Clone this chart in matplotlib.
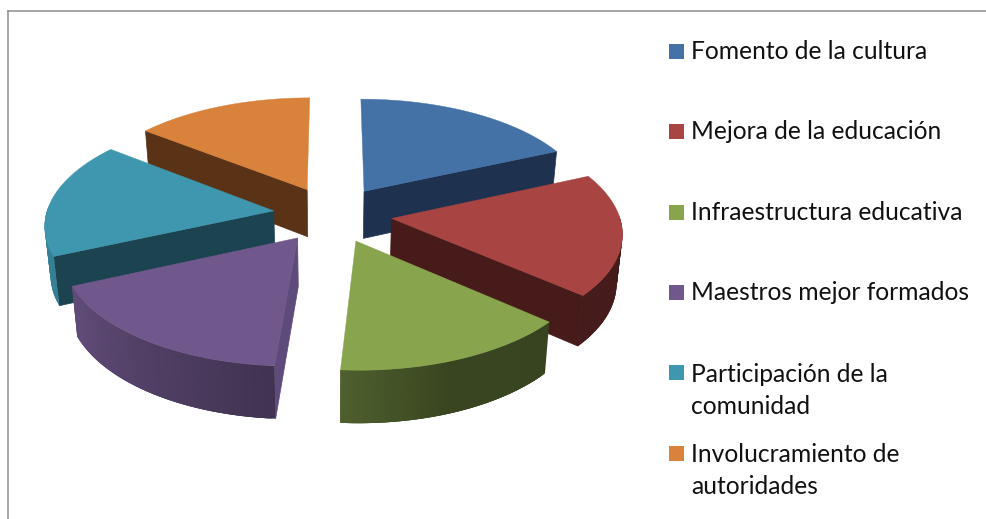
import numpy as np
import matplotlib
matplotlib.use("Agg")
import matplotlib.pyplot as plt
from matplotlib.collections import PolyCollection
from matplotlib.lines import Line2D
from matplotlib.patches import Rectangle

categories = ["Fomento de la cultura", "Mejora de la educación", "Infraestructura educativa",
              "Maestros mejor formados", "Participación de la\ncomunidad", "Involucramiento de\nautoridades"]
values = [66, 65, 53, 62, 62, 52]
top_colors = ["#4472A7", "#A84442", "#88A54E", "#70588C", "#3F96AF", "#D9823C"]
side_colors = ["#1E324F", "#461B19", "#3A451F", "#5F4A7C", "#1C4350", "#5A3316"]

CX, CY = 332.5, 214.3
FX, G, K = 227.5, 107.7, 0.115
EXPLODE = 0.261
START = 90.0


def project(x, y):
    d = 1 + K * y
    return np.column_stack([CX + FX * x / d, CY - G * y / d])


def lower(p):
    p = np.asarray(p, float)
    return np.column_stack([CX + (p[:, 0] - CX) * 0.98, p[:, 1] + 50 + 0.033 * (p[:, 1] - 280)])


def shade(color, f):
    return tuple(np.array(matplotlib.colors.to_rgb(color)) * f)


fig = plt.figure(figsize=(9.86, 5.19), dpi=100)
ax = fig.add_axes([0, 0, 1, 1])
ax.set_xlim(0, 986)
ax.set_ylim(519, 0)
ax.axis("off")

edges = START - np.cumsum([0] + values) * 360.0 / sum(values)
slices = []
for i in range(len(values)):
    a0, a1 = edges[i], edges[i + 1]
    mid = np.radians((a0 + a1) / 2)
    ox, oy = EXPLODE * np.cos(mid), EXPLODE * np.sin(mid)
    apex = project(np.array([ox]), np.array([oy]))[0]
    slices.append((apex[1], i, a0, a1, ox, oy, apex))

z = 2
for _, i, a0, a1, ox, oy, apex in sorted(slices, key=lambda s: s[0]):
    angles = np.linspace(a0, a1, 90)
    r = np.radians(angles)
    rim = project(ox + np.cos(r), oy + np.sin(r))
    rim_low = lower(rim)
    apex_low = lower(apex[None, :])[0]

    if np.sin(np.radians(a0 + 90)) < 0:
        ax.fill([apex[0], rim[0, 0], rim_low[0, 0], apex_low[0]],
                [apex[1], rim[0, 1], rim_low[0, 1], apex_low[1]],
                color=side_colors[i], lw=0.5, zorder=z)
    if np.sin(np.radians(a1 - 90)) < 0:
        ax.fill([apex[0], rim[-1, 0], rim_low[-1, 0], apex_low[0]],
                [apex[1], rim[-1, 1], rim_low[-1, 1], apex_low[1]],
                color=side_colors[i], lw=0.5, zorder=z)

    # curved outer wall; each quad overlaps the next so no seams show
    quads, cols = [], []
    n = len(angles)
    for j in range(n - 1):
        am = ((angles[j] + angles[j + 1]) / 2 + 180) % 360 - 180
        if np.sin(np.radians(am)) > 0.02:
            continue
        k = min(j + 3, n - 1)
        f = np.interp(am, [-180, -150, -94, -70, -30, 0], [0.85, 0.85, 0.58, 0.42, 0.41, 0.41])
        quads.append([rim[j], rim[k], rim_low[k], rim_low[j]])
        cols.append(shade(top_colors[i], f))
    if quads:
        ax.add_collection(PolyCollection(quads[::-1] if a0 < -93 else quads,
                                         facecolors=cols[::-1] if a0 < -93 else cols,
                                         edgecolors="none", linewidths=0, zorder=z + 0.1))

    ax.fill(np.r_[apex[0], rim[:, 0]], np.r_[apex[1], rim[:, 1]], color=top_colors[i], lw=0.3, zorder=z + 0.2)
    z += 1

# legend
marker_y = [51.5, 131.5, 212.5, 292.5, 372.5, 453.5]
baseline_y = [59, 139, 219.5, 300.5, 414, 494]
for i, label in enumerate(categories):
    ax.add_patch(Rectangle((669, marker_y[i] - 7.5), 15, 15, color=top_colors[i], lw=0, zorder=20))
    ax.text(691, baseline_y[i], label, family="Lato", fontsize=17.75, color="#111111",
            va="baseline", ha="left", linespacing=1.5, zorder=20)

# outer frame of the chart
frame = "#8E8E8E"
fig.add_artist(Line2D([7.5 / 986, 7.5 / 986], [0, 1 - 10.5 / 519], color=frame, lw=1.1))
fig.add_artist(Line2D([7.5 / 986, 1], [1 - 10.5 / 519, 1 - 10.5 / 519], color=frame, lw=1.1))

fig.savefig("out.png", dpi=100, facecolor="white")
